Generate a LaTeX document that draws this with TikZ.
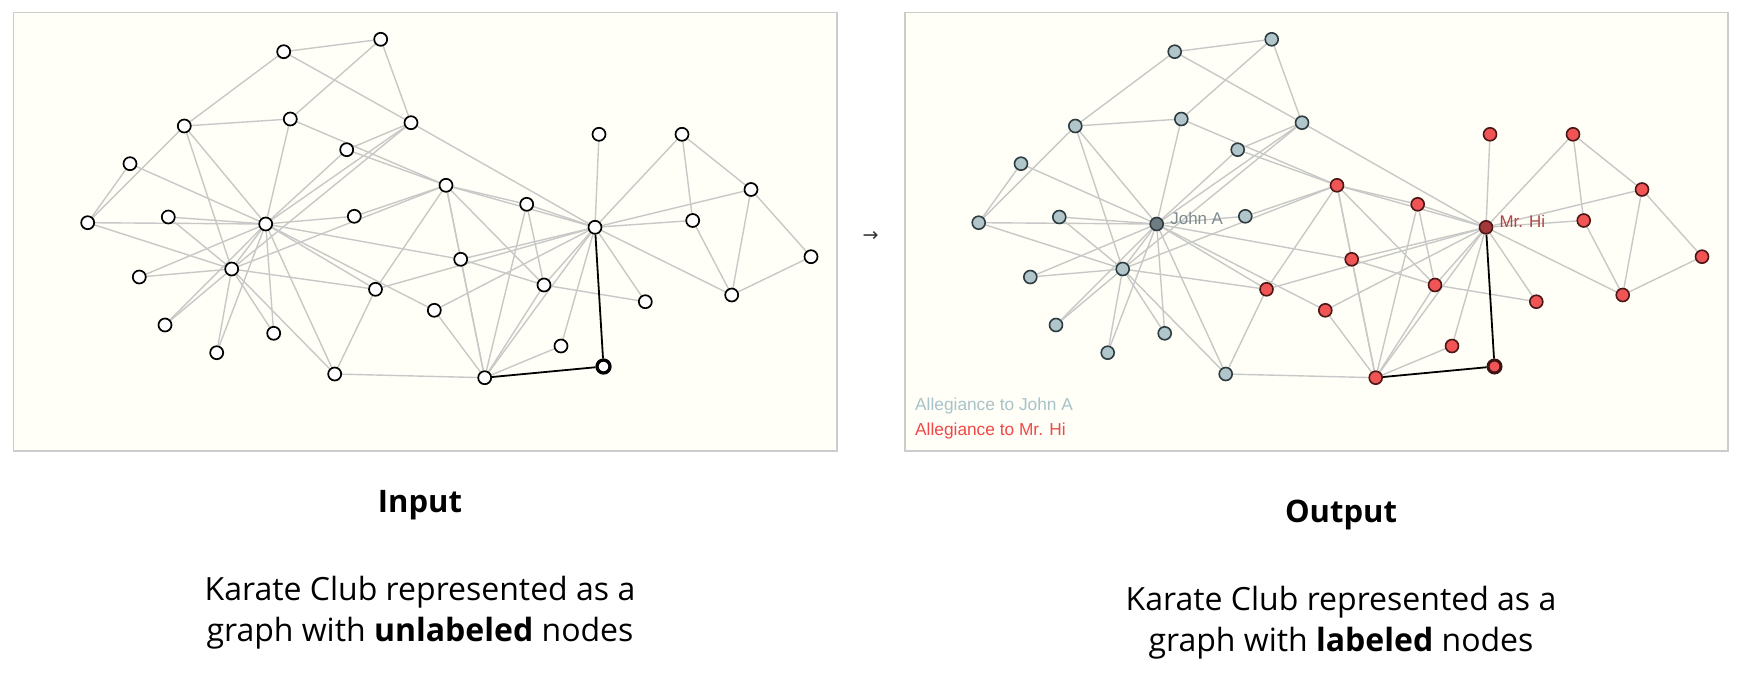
\documentclass[tikz,border=0pt]{standalone}
\usepackage{fontspec}
\setmainfont{Open Sans}
\newfontfamily\arialf{Liberation Sans}
\newfontfamily\dejavuf{DejaVu Sans}
\usetikzlibrary{backgrounds}
\definecolor{panelbg}{HTML}{FFFFF7}
\definecolor{panelframe}{HTML}{CCCCCC}
\definecolor{edgegray}{HTML}{C8C8C8}
\definecolor{bluefill}{HTML}{B1C6CB}
\definecolor{blueline}{HTML}{2E3B3F}
\definecolor{johnfill}{HTML}{6E7D82}
\definecolor{redfill}{HTML}{F05454}
\definecolor{redline}{HTML}{4A1616}
\definecolor{hifill}{HTML}{A33838}
\definecolor{johntext}{HTML}{7D8B90}
\definecolor{hitext}{HTML}{B04545}
\definecolor{legblue}{HTML}{A8C2CA}
\definecolor{legred}{HTML}{F04848}
\definecolor{arrowgray}{HTML}{333333}
\begin{document}
\begin{tikzpicture}[x=1pt,y=-1pt,
  gnode/.style={circle, inner sep=0pt, minimum size=13pt},
  plainnode/.style={gnode, draw=black, line width=1.7pt, fill=white},
  rednode/.style={gnode, draw=redline, line width=1.6pt, fill=redfill},
  bluenode/.style={gnode, draw=blueline, line width=1.6pt, fill=bluefill},
  gedge/.style={draw=edgegray, line width=1.4pt},
  hedge/.style={draw=black, line width=1.8pt},
  panel/.style={draw=panelframe, line width=1.6pt, fill=panelbg},
  lbl/.style={inner sep=0pt, anchor=base west, font=\arialf\fontsize{16.9}{20}\selectfont},
  legend/.style={inner sep=0pt, anchor=base west, font=\arialf\fontsize{17.3}{21}\selectfont},
  title/.style={inner sep=0pt, anchor=base, font=\bfseries\fontsize{31}{37}\selectfont},
  caption/.style={inner sep=0pt, anchor=base, font=\fontsize{32}{38}\selectfont}
]
\useasboundingbox (0,0) rectangle (1754,681);
% node positions (left panel)
\foreach \i/\x/\y in {
  0/595/227.3, 1/484.7/377.7, 2/446/185.3, 3/544/285, 4/682/134.3,
  5/731.7/295, 6/751/189.5, 7/526.7/204.3, 8/375.5/289.3, 9/354.3/216.3,
  10/692.7/220.5, 11/599/134.3, 12/645.3/301.7, 13/460.7/259.3, 14/168.3/217,
  15/139.3/277, 16/811/256.7, 17/603.5/366.5, 18/165/325, 19/434.3/310.3,
  20/273.7/333.3, 21/561/346, 22/216.7/352.7, 23/184.3/126, 24/380.7/39.3,
  25/283.7/51.7, 26/130/163.7, 27/290.3/119, 28/346.7/149.7, 29/87.7/222.7,
  30/334.7/374, 31/411/122.7, 32/231.7/269, 33/265.7/224}
  {\coordinate (p\i) at (\x,\y);}
% left panel nodes
\foreach \i in {0,...,16,18,19,...,33}
  \node[plainnode] (L\i) at (p\i) {};
\node[plainnode, line width=3.3pt] (L17) at (p17) {};
% right panel nodes
\foreach \i in {1,2,3,4,5,6,7,8,10,11,12,13,16,19,21}
  \node[rednode] (R\i) at ([xshift=891pt]p\i) {};
\node[rednode, draw=redline!85!black, line width=3pt] (R17) at ([xshift=891pt]p17) {};
\node[rednode, fill=hifill] (R0) at ([xshift=891pt]p0) {};
\foreach \i in {9,14,15,18,20,22,23,24,25,26,27,28,29,30,31,32}
  \node[bluenode] (R\i) at ([xshift=891pt]p\i) {};
\node[bluenode, fill=johnfill] (R33) at ([xshift=891pt]p33) {};
% edges
\begin{pgfonlayer}{background}
  \path[panel] (13.3,12.3) rectangle (836.7,451);
  \path[panel] (905,12.3) rectangle (1728,451);
  \foreach \a/\b in {0/1,0/2,0/3,0/4,0/5,0/6,0/7,0/8,0/10,0/11,0/12,0/13,0/19,0/21,0/31,
    1/2,1/3,1/7,1/13,1/19,1/21,1/30,
    2/3,2/7,2/8,2/9,2/13,2/27,2/28,2/32,
    3/7,3/12,3/13,4/6,4/10,5/6,5/10,5/16,6/16,
    8/30,8/32,8/33,9/33,13/33,
    14/32,14/33,15/32,15/33,18/32,18/33,19/33,20/32,20/33,22/32,22/33,
    23/25,23/27,23/29,23/32,23/33,24/25,24/27,24/31,25/31,
    26/29,26/33,27/33,28/31,28/33,29/32,29/33,30/32,30/33,31/32,31/33,32/33}
  {
    \draw[gedge] (L\a) -- (L\b);
    \draw[gedge] (R\a) -- (R\b);
  }
  \draw[hedge] (L0) -- (L17) -- (L1);
  \draw[hedge] (R0) -- (R17) -- (R1);
\end{pgfonlayer}
% labels in the output graph
\node[lbl, text=johntext] (johnlbl) at ([xshift=13.5pt]R33.center) {John A};
\node[lbl, text=hitext] (hilbl) at ([xshift=13.3pt]R0.center) {Mr. Hi};
% legend
\node[legend, text=legblue] (leg1) at (915,410) {Allegiance to John A};
\node[legend, text=legred] (leg2) at (915,435.7) {Allegiance to Mr. Hi};
% arrow between the panels
\node[inner sep=0pt, text=arrowgray, font=\dejavuf\fontsize{19}{22}\selectfont] (arr) at (870.7,236) {→};
% captions
\node[title] (tin) at (420,512.7) {Input};
\node[caption] (cin1) at (420,600) {Karate Club represented as a};
\node[caption] (cin2) at (420,641.7) {graph with \textbf{unlabeled} nodes};
\node[title] (tout) at (1341,522.7) {Output};
\node[caption] (cout1) at (1341,610) {Karate Club represented as a};
\node[caption] (cout2) at (1341,651.7) {graph with \textbf{labeled} nodes};
\end{tikzpicture}
\end{document}
